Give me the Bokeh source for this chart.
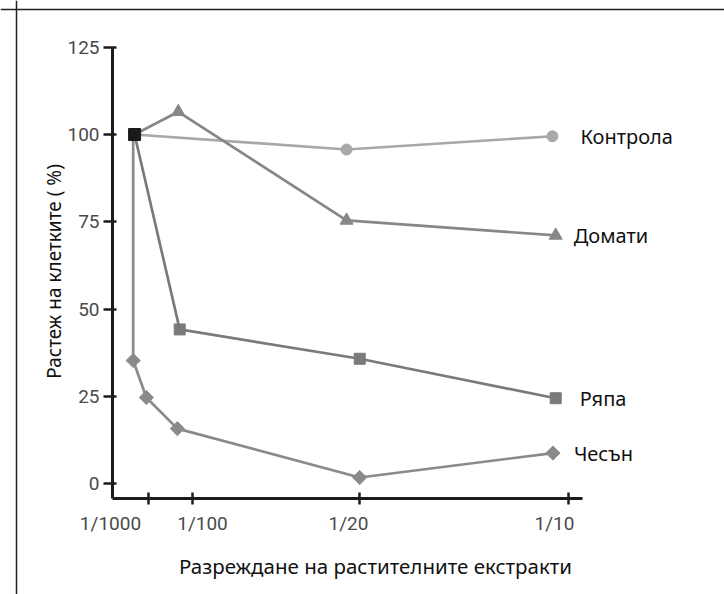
import math
from bokeh.plotting import figure
from bokeh.models import Range1d, LinearAxis, FixedTicker, Span, ColumnDataSource
from bokeh.core.properties import value
from bokeh.embed import file_html
from bokeh.resources import INLINE

# ---------------- data ----------------
series_names = ["Контрола", "Домати", "Ряпа", "Чесън"]
start_x = 4.7
start_y = 100

control_x = [4.7, 49.8, 93.6]
control_y = [100, 95.7, 99.5]
tomato_x = [4.7, 14.0, 49.8, 94.3]
tomato_y = [100, 106.5, 75.4, 71.1]
turnip_x = [4.7, 14.3, 52.6, 94.3]
turnip_y = [100, 44.2, 35.8, 24.5]
garlic_x = [4.4, 4.4, 7.2, 13.8, 52.6, 93.7]
garlic_y = [100, 35.3, 24.7, 15.8, 1.8, 8.8]

x_tick_pos = [7.66, 17.02, 52.55, 97.02]
x_label_pos = [-0.43, 19.15, 50.21, 94.04]
x_labels = ["1/1000", "1/100", "1/20", "1/10"]
y_ticks = [0, 25, 50, 75, 100, 125]

x_title = "Разреждане на растителните екстракти"
y_title = "Растеж на клетките ( %)"

# ---------------- layout ----------------
W, H = 724, 594
X_ORIGIN, X_PPU = 112, 4.7      # canvas px of x=0, px per unit
Y_ORIGIN, Y_PPU = 483.3, 3.493  # canvas px of y=0, px per unit
x_range = Range1d(-X_ORIGIN / X_PPU, (W - X_ORIGIN) / X_PPU)
y_range = Range1d(-(H - Y_ORIGIN) / Y_PPU, Y_ORIGIN / Y_PPU)
x_axis_loc = -(498 - Y_ORIGIN) / Y_PPU

p = figure(width=W, height=H, x_range=x_range, y_range=y_range,
           output_backend="svg", toolbar_location=None,
           x_axis_type=None, y_axis_type=None,
           min_border=0, min_border_left=0, min_border_right=0,
           min_border_top=0, min_border_bottom=0)
p.outline_line_color = None
p.xgrid.visible = False
p.ygrid.visible = False
p.background_fill_color = "white"

TICK_FONT = "Roboto"
TEXT_FONT = "Noto Sans"
AXIS_COLOR = "#1c1c1c"

# border of the image frame
p.add_layout(Span(location=y_range.end - 9 / Y_PPU, dimension="width",
                  line_color="#222222", line_width=1.5))
p.add_layout(Span(location=x_range.start + 16 / X_PPU, dimension="height",
                  line_color="#222222", line_width=1.5))

# y axis
yax = LinearAxis(fixed_location=0, bounds=(x_axis_loc, 125),
                 ticker=FixedTicker(ticks=y_ticks))
yax.axis_line_width = 3
yax.axis_line_color = AXIS_COLOR
yax.major_tick_line_width = 2.5
yax.major_tick_line_color = AXIS_COLOR
yax.major_tick_in = 4
yax.major_tick_out = 9
yax.minor_tick_line_color = None
yax.major_label_standoff = 4
yax.major_label_text_font = TICK_FONT
yax.major_label_text_font_size = "19px"
yax.major_label_text_color = "#4a4a4a"
p.add_layout(yax, "left")

# y title axis
ytit = LinearAxis(fixed_location=0, bounds=(0, 2 * (Y_ORIGIN - 271) / Y_PPU),
                  ticker=FixedTicker(ticks=[]), axis_label=y_title)
ytit.axis_line_color = None
ytit.major_tick_line_color = None
ytit.minor_tick_line_color = None
ytit.axis_label_standoff = 46
ytit.axis_label_text_font = TEXT_FONT
ytit.axis_label_text_font_style = "normal"
ytit.axis_label_text_font_size = "19px"
ytit.axis_label_text_color = "#111111"
p.add_layout(ytit, "left")

# x axis (line + ticks)
xax = LinearAxis(fixed_location=x_axis_loc, bounds=(0, 100),
                 ticker=FixedTicker(ticks=x_tick_pos),
                 major_label_overrides={t: "" for t in x_tick_pos})
xax.axis_line_width = 3
xax.axis_line_color = AXIS_COLOR
xax.major_tick_line_width = 2.5
xax.major_tick_line_color = AXIS_COLOR
xax.major_tick_in = 6
xax.major_tick_out = 6
xax.minor_tick_line_color = None
p.add_layout(xax, "below")

# x axis labels
xlab = LinearAxis(fixed_location=x_axis_loc, bounds=(-1, 112.9),
                  ticker=FixedTicker(ticks=x_label_pos),
                  major_label_overrides={t: s for t, s in zip(x_label_pos, x_labels)})
xlab.axis_line_color = None
xlab.major_tick_line_color = None
xlab.minor_tick_line_color = None
xlab.major_tick_in = 0
xlab.major_tick_out = 0
xlab.major_label_standoff = 13
xlab.major_label_text_font = TICK_FONT
xlab.major_label_text_font_size = "19px"
xlab.major_label_text_color = "#4a4a4a"
p.add_layout(xlab, "below")

# x title
xtit = LinearAxis(fixed_location=x_axis_loc, bounds=(-1, 112.9),
                  ticker=FixedTicker(ticks=[]), axis_label=x_title)
xtit.axis_line_color = None
xtit.major_tick_line_color = None
xtit.minor_tick_line_color = None
xtit.axis_label_standoff = 53
xtit.axis_label_text_font = TEXT_FONT
xtit.axis_label_text_font_style = "normal"
xtit.axis_label_text_font_size = "20.5px"
xtit.axis_label_text_color = "#111111"
p.add_layout(xtit, "below")

# ---------------- series ----------------
LW = 2.7
series = [
    (control_x, control_y, "#a8a8a8", "circle", 11, 0),
    (tomato_x, tomato_y, "#878787", "triangle", 13, 0),
    (turnip_x, turnip_y, "#7a7a7a", "square", 11, 0),
    (garlic_x, garlic_y, "#8a8a8a", "square", 10, math.pi / 4),
]
for xs, ys, col, mk, sz, ang in series:
    p.line(xs, ys, line_color=col, line_width=LW)
for xs, ys, col, mk, sz, ang in series:
    p.scatter(xs[1:], ys[1:], marker=mk, size=sz,
              angle=ang, fill_color=col, line_color=col)

p.scatter([start_x], [start_y], marker="square", size=12,
          fill_color="#1a1a1a", line_color="#1a1a1a")

lab_src = ColumnDataSource(dict(
    x=[control_x[-1], tomato_x[-1], turnip_x[-1], garlic_x[-1]],
    y=[control_y[-1], tomato_y[-1], turnip_y[-1], garlic_y[-1]],
    text=series_names,
    dx=[28, 18, 24, 21],
))
p.text(x="x", y="y", text="text", x_offset="dx", source=lab_src,
       text_font=value(TEXT_FONT), text_font_size="20px",
       text_baseline="middle", text_align="left", text_color="#111111")

with open("out.html", "w") as f:
    f.write(file_html(p, INLINE))
